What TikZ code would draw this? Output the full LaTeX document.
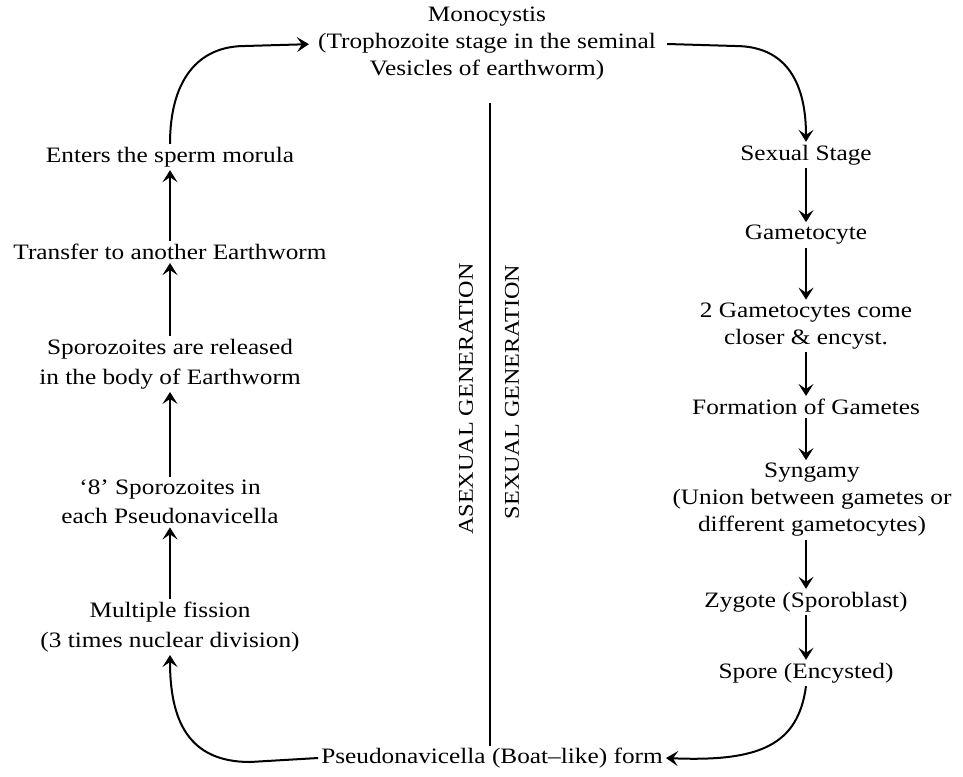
\documentclass[tikz,border=0pt]{standalone}
\usepackage{fontspec}
\setmainfont{Liberation Serif}[FakeStretch=1.15]
\usetikzlibrary{arrows.meta}
\begin{document}
\begin{tikzpicture}[x=1pt,y=-1pt,
  lbl/.style={font=\fontsize{22}{27}\selectfont, align=center, inner sep=3pt},
  lblw/.style={lbl, font=\fontsize{22}{29.5}\selectfont},
  side/.style={font=\fontsize{21}{25}\selectfont, inner sep=2pt, rotate=90},
  arr/.style={line width=2pt, -{Stealth[length=12pt,width=15pt,inset=5pt]}},
  divline/.style={line width=1.4pt}
]
\useasboundingbox (0,0) rectangle (963,776);
% top
\node[lbl] (mono) at (487,44) {Monocystis\\(Trophozoite stage in the seminal\\Vesicles of earthworm)};
% left column
\node[lbl] (enters) at (170,157) {Enters the sperm morula};
\node[lbl] (transfer) at (170,252) {Transfer to another Earthworm};
\node[lblw] (released) at (170,364) {Sporozoites are released\\in the body of Earthworm};
\node[lblw] (eight) at (170,502) {‘8’ Sporozoites in\\each Pseudonavicella};
\node[lblw] (fission) at (170,627) {Multiple fission\\(3 times nuclear division)};
% right column
\node[lbl] (sexual) at (806,155) {Sexual Stage};
\node[lbl] (gameto) at (806,235) {Gametocyte};
\node[lbl] (two) at (806,326) {2 Gametocytes come\\closer \& encyst.};
\node[lbl] (formation) at (806,407) {Formation of Gametes};
\node[lbl] (syngamy) at (812,500) {Syngamy\\(Union between gametes or\\different gametocytes)};
\node[lbl] (zygote) at (806,602) {Zygote (Sporoblast)};
\node[lbl] (spore) at (806,673) {Spore (Encysted)};
% bottom
\node[lbl] (pseudo) at (492,758) {Pseudonavicella (Boat–like) form};
% divider
\coordinate (dtop) at (490,103);
\coordinate (dbot) at (490,746);
\draw[divline] (dtop) -- (dbot);
\node[side] (asex) at (466,399) {ASEXUAL GENERATION};
\node[side] (sexgen) at (512,392) {SEXUAL GENERATION};
% left arrows (upward)
\draw[arr] (transfer.north) -- (enters.south);
\draw[arr] (released.north) -- (transfer.south);
\draw[arr] (eight.north) -- (released.south);
\draw[arr] (fission.north) -- (eight.south);
\draw[arr] (pseudo.west) -- (250,762) .. controls (188,762) and (170,720) .. (fission.south);
\draw[arr, shorten >=6pt] (enters.north) .. controls (170,80) and (198,46) .. (245,46) -- (mono.west);
% right arrows (downward)
\draw[arr] ([xshift=8pt]mono.east) -- (735,46) .. controls (788,46) and (806,85) .. (sexual.north);
\draw[arr] (sexual.south) -- (gameto.north);
\draw[arr] (gameto.south) -- (two.north);
\draw[arr] (two.south) -- (formation.north);
\draw[arr] (formation.south) -- (syngamy.north -| formation.south);
\draw[arr] (syngamy.south -| zygote.north) -- (zygote.north);
\draw[arr] (zygote.south) -- (spore.north);
\draw[arr] (spore.south) .. controls (798,745) and (760,762) .. (pseudo.east);
\end{tikzpicture}
\end{document}
